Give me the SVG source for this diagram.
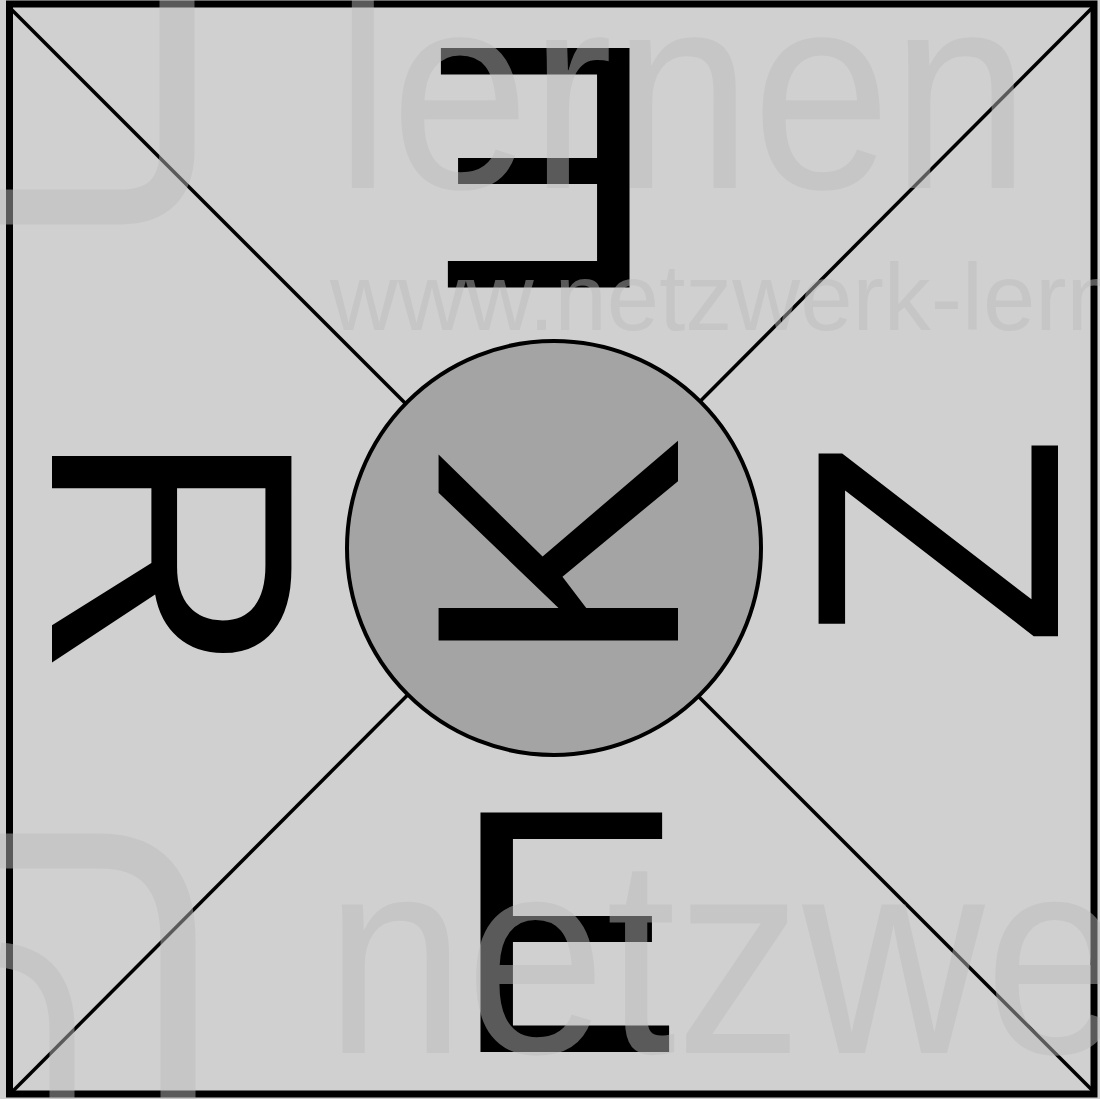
<svg xmlns="http://www.w3.org/2000/svg" width="1100" height="1099" viewBox="0 0 1100 1099">
<style>
.bg{fill:#d0d0d0}
.frame{fill:none;stroke:#000;stroke-width:7}
.diag{stroke:#000;stroke-width:3.5;fill:none}
.hub{fill:#a4a4a4;stroke:#000;stroke-width:4}
.letter{font-family:"Liberation Sans",Arial,sans-serif;font-size:348px;fill:#000;text-anchor:middle}
.wm{font-family:"Liberation Sans",Arial,sans-serif;fill:#bdbdbd;opacity:0.48}
.wmshape{fill:none;stroke:#bdbdbd;opacity:0.48}
</style>
<rect class="bg" x="0" y="0" width="1100" height="1099"/>
<g id="frame"><rect class="frame" x="9.5" y="4" width="1084.5" height="1090"/></g>
<g id="connectors">
<line class="diag" x1="11" y1="9" x2="1093" y2="1091"/>
<line class="diag" x1="1093" y1="7" x2="11" y2="1093"/>
</g>
<g id="node-center">
<circle class="hub" cx="554" cy="548" r="207"/>
<text class="letter" transform="translate(678,553) rotate(-90)">K</text>
</g>
<g id="node-left"><text class="letter" transform="translate(52,553) rotate(90)">R</text></g>
<g id="node-right"><text class="letter" transform="translate(1058,541) rotate(-90)">Z</text></g>
<g id="node-top"><text class="letter" transform="translate(542,48) rotate(180)">E</text></g>
<g id="node-bottom"><text class="letter" transform="translate(568,1052)">E</text></g>
<g id="watermark">
<path class="wmshape" stroke-width="35" d="M177,0 V150 Q177,207 120,207 H0"/>
<path class="wmshape" stroke-width="35" d="M0,851 H100 Q178,851 178,940 V1099"/>
<path class="wmshape" stroke-width="25" d="M0,955 Q62,960 62,1030 V1099"/>
<text class="wm" x="335" y="188" font-size="280" textLength="695" lengthAdjust="spacingAndGlyphs">lernen</text>
<text class="wm" x="330" y="330" font-size="94">www.netzwerk-lern</text>
<text class="wm" x="325" y="1053" font-size="281" textLength="800" lengthAdjust="spacingAndGlyphs">netzwe</text>
</g>
</svg>
